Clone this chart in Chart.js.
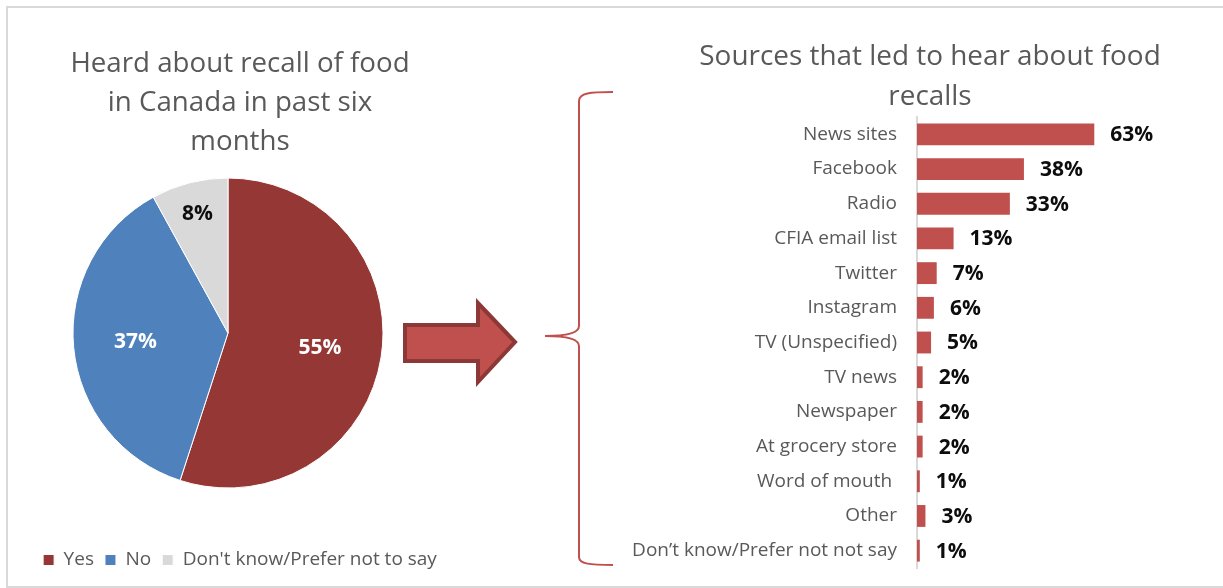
<!DOCTYPE html>
<html>
<head>
<meta charset="utf-8">
<script src="https://cdn.jsdelivr.net/npm/chart.js@4.4.1/dist/chart.umd.min.js"></script>
<style>
  html, body { margin: 0; padding: 0; background: #fff; }
  body { width: 1223px; height: 588px; overflow: hidden; position: relative; }
  #frame {
    position: absolute; left: 6px; top: 6px; width: 1230px; height: 578px;
    border: 2px solid #d9d9d9;
  }
  .box { position: absolute; }
  #pieBox { left: 13px; top: 8px; width: 454px; height: 578px; }
  #barBox { left: 625px; top: 8px; width: 610px; height: 578px; }
  #links { position: absolute; left: 0; top: 0; pointer-events: none; }
</style>
</head>
<body>
<div id="frame"></div>
<div class="box" id="pieBox"><canvas id="chart-pie" width="454" height="578"></canvas></div>
<div class="box" id="barBox"><canvas id="chart-sources" width="610" height="578"></canvas></div>
<svg id="links" width="1223" height="588">
  <polygon points="405,325 478,325 478,303 515,342 478,382 478,361 405,361"
           fill="#c0504d" stroke="#8c3836" stroke-width="4" stroke-linejoin="miter"/>
  <path d="M613 92 C590 92 579 93 579 101 L579 326 C579 333 566 336 545 336 C566 336 579 339 579 346 L579 557 C579 564 590 565 613 565"
        fill="none" stroke="#c0504d" stroke-width="2"/>
</svg>

<script>
// ---- heard about a recall (pie) ----
const pieLabels = ['Yes', 'No', "Don't know/Prefer not to say"];
const pieValues = [55, 37, 8];
const pieColors = ['#953735', '#4f81bd', '#d9d9d9'];

// ---- where people heard it (bars) ----
const sourceLabels = [
  'News sites', 'Facebook', 'Radio', 'CFIA email list', 'Twitter', 'Instagram',
  'TV (Unspecified)', 'TV news', 'Newspaper', 'At grocery store', 'Word of mouth ',
  'Other', 'Don’t know/Prefer not not say',
];
const sourceValues = [63, 38, 33, 13, 7, 6, 5, 2, 2, 2, 1, 3, 1];

const FONT  = '"Open Sans", "DejaVu Sans", sans-serif';
const GREY  = '#595959';
const RED   = '#c0504d';

// pie sits a little left of the centred title/legend
const shiftPie = {
  id: 'shiftPie',
  afterLayout(chart) {
    chart.chartArea.left  -= 12;
    chart.chartArea.right -= 12;
  },
};

// percentage text inside each slice; small slices get dark text further out
const pieValueLabels = {
  id: 'pieValueLabels',
  afterDatasetsDraw(chart) {
    const { ctx } = chart;
    const arcs = chart.getDatasetMeta(0).data;
    ctx.save();
    ctx.font = `bold 21px ${FONT}`;
    ctx.textAlign = 'center';
    ctx.textBaseline = 'middle';
    arcs.forEach((arc, i) => {
      const v   = pieValues[i];
      const mid = (arc.startAngle + arc.endAngle) / 2;
      const r   = arc.outerRadius * (v < 10 ? 0.79 : 0.6);
      ctx.fillStyle = v < 10 ? '#0d0d0d' : '#ffffff';
      ctx.fillText(`${v}%`, arc.x + Math.cos(mid) * r, arc.y + Math.sin(mid) * r);
    });
    ctx.restore();
  },
};

// percentage text just past the end of each bar
const barValueLabels = {
  id: 'barValueLabels',
  afterDatasetsDraw(chart) {
    const { ctx } = chart;
    const bars = chart.getDatasetMeta(0).data;
    ctx.save();
    ctx.font = `bold 21px ${FONT}`;
    ctx.fillStyle = '#0d0d0d';
    ctx.textAlign = 'left';
    ctx.textBaseline = 'middle';
    bars.forEach((bar, i) => {
      ctx.fillText(`${sourceValues[i]}%`, bar.x + 16, bar.y + 1);
    });
    ctx.restore();
  },
};

new Chart(document.getElementById('chart-pie'), {
  type: 'pie',
  data: {
    labels: pieLabels,
    datasets: [{
      data:            pieValues,
      backgroundColor: pieColors,
      borderColor:     '#ffffff',
      borderWidth:     1,
      hoverOffset:     0,
      radius:          155,
    }],
  },
  options: {
    responsive: false,
    animation:  false,
    events:     [],
    layout: { padding: { left: 5, right: 5, top: 0, bottom: 6.5 } },
    plugins: {
      title: {
        display: true,
        text:    ['Heard about recall of food', 'in Canada in past six', 'months'],
        color:   GREY,
        font:    { family: FONT, size: 27.7, weight: 'normal', lineHeight: 1.408 },
        padding: { top: 36.5, bottom: 16.5 },
      },
      legend: {
        position: 'bottom',
        align:    'center',
        title:    { display: true, text: '', padding: { top: 37.1, bottom: 0 } },
        labels: {
          boxWidth:  11,
          boxHeight: 11,
          padding:   11,
          color:     GREY,
          font:      { family: FONT, size: 19 },
        },
      },
      tooltip: { enabled: false },
    },
  },
  plugins: [shiftPie, pieValueLabels],
});

new Chart(document.getElementById('chart-sources'), {
  type: 'bar',
  data: {
    labels: sourceLabels,
    datasets: [{
      data:               sourceValues,
      backgroundColor:    RED,
      barPercentage:      0.9,
      categoryPercentage: 0.7,
    }],
  },
  options: {
    indexAxis:  'y',
    responsive: false,
    animation:  false,
    events:     [],
    layout: { padding: { left: 0, right: 0, top: 0, bottom: 18 } },
    scales: {
      x: { display: false, min: 0, max: 113 },
      y: {
        grid:   { display: false, drawTicks: false },
        border: { display: true, color: '#d9d9d9', width: 2 },
        ticks:  { color: GREY, padding: 20, font: { family: FONT, size: 19 } },
        afterFit(scale) {
          scale.width = 292;
          scale.paddingTop = 0;
          scale.paddingBottom = 0;
        },
      },
    },
    plugins: {
      title: {
        display: true,
        text:    ['Sources that led to hear about food', 'recalls'],
        color:   GREY,
        font:    { family: FONT, size: 27.9, weight: 'normal', lineHeight: 1.434 },
        padding: { top: 29, bottom: 0 },
      },
      legend:  { display: false },
      tooltip: { enabled: false },
    },
  },
  plugins: [barValueLabels],
});
</script>
</body>
</html>
